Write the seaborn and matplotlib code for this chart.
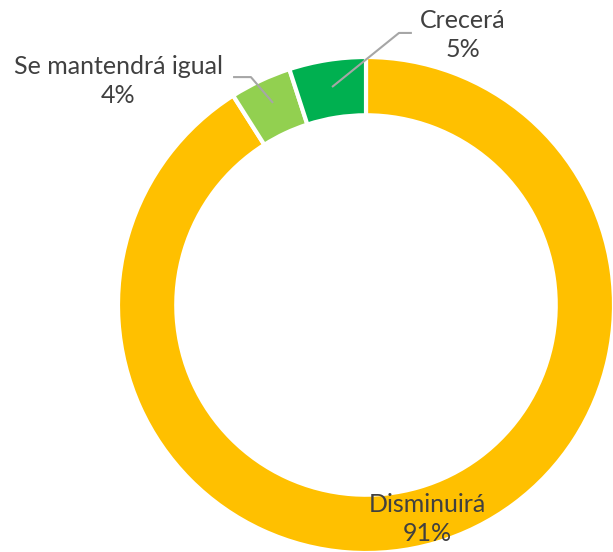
import matplotlib

matplotlib.use("Agg")
import matplotlib.pyplot as plt
import seaborn as sns

# data
categories = ["Disminuirá", "Se mantendrá igual", "Crecerá"]
shares = [91, 4, 5]
colors = ["#FFC000", "#92D050", "#00B050"]

sns.set_theme(style="white")
plt.rcParams["font.family"] = ["Lato", "DejaVu Sans"]

fig = plt.figure(figsize=(6.13, 5.52), dpi=100)
fig.patch.set_facecolor("white")
# axes square of 496 px centred on the ring centre (366, 305)
ax = fig.add_axes([118 / 613, (552 - 305 - 248) / 552, 496 / 613, 496 / 552])

ax.pie(
    shares,
    colors=colors,
    startangle=90,
    counterclock=False,
    radius=1,
    wedgeprops=dict(width=0.235, edgecolor="white", linewidth=3),
)
ax.set_xlim(-1, 1)
ax.set_ylim(-1, 1)
ax.set_aspect("equal")
ax.axis("off")

text_color = "#404040"
line_color = "#A6A6A6"

# labels
label_pos = {
    "Crecerá": (0.391, 1.090),
    "Se mantendrá igual": (-1.0, 0.903),
    "Disminuirá": (0.246, -0.862),
}
for cat, val in zip(categories, shares):
    x, y = label_pos[cat]
    ax.text(
        x, y, f"{cat}\n{val}%",
        ha="center", va="center", fontsize=18, color=text_color,
        linespacing=1.3, clip_on=False,
    )

# leader lines
ax.plot([-0.137, 0.133, 0.185], [0.879, 1.097, 1.097], color=line_color,
        lw=1.5, clip_on=False, solid_capstyle="butt")
ax.plot([-0.375, -0.464, -0.536], [0.815, 0.919, 0.919], color=line_color,
        lw=1.5, clip_on=False, solid_capstyle="butt")

fig.savefig("out.png", dpi=100, facecolor="white")
